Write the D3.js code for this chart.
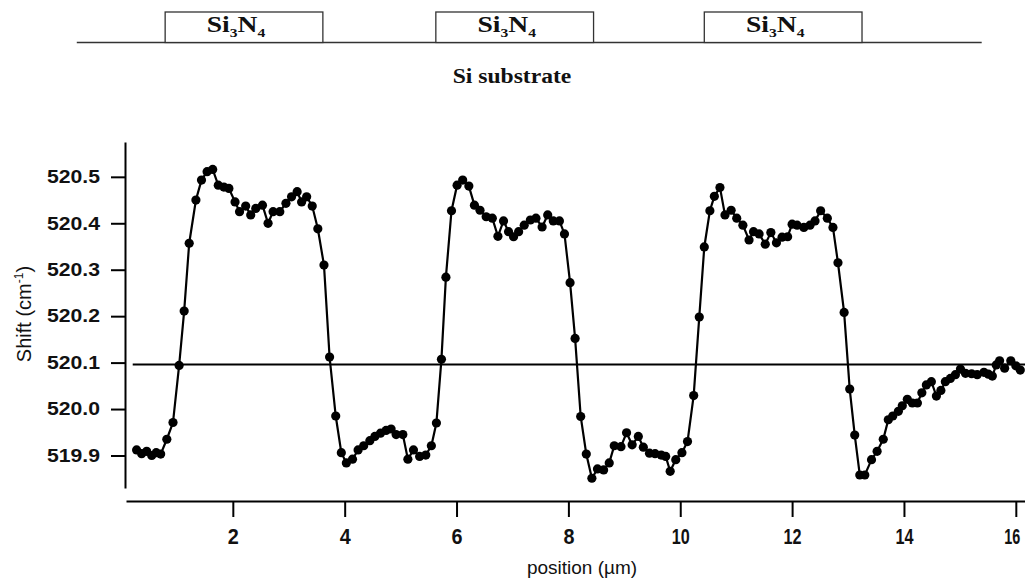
<!DOCTYPE html>
<html>
<head>
<meta charset="utf-8">
<script src="https://cdn.jsdelivr.net/npm/d3@7"></script>
<style>
body { margin: 0; background: #fff; }
svg { display: block; background: #fff; }
.axis path, .axis line { stroke: #000; stroke-width: 2px; }
.axis text { font-family: "Liberation Sans", Arial, sans-serif; font-weight: bold; fill: #111; }
.title { font-family: "Liberation Sans", Arial, sans-serif; fill: #111; }
.serif { font-family: "Liberation Serif", "Times New Roman", serif; font-weight: bold; fill: #111; }
</style>
</head>
<body>
<div id="chart"></div>
<script>
// Raman shift along the scan line
var positions = [
    0.28, 0.37, 0.46, 0.55, 0.63, 0.71, 0.82, 0.93, 1.04, 1.13,
    1.22, 1.34, 1.44, 1.54, 1.64, 1.74, 1.84, 1.93, 2.04, 2.12,
    2.23, 2.32, 2.41, 2.53, 2.63, 2.72, 2.84, 2.95, 3.05, 3.15,
    3.23, 3.32, 3.42, 3.52, 3.63, 3.73, 3.84, 3.94, 4.03, 4.14,
    4.24, 4.34, 4.45, 4.54, 4.64, 4.74, 4.83, 4.92, 5.04, 5.13,
    5.23, 5.34, 5.45, 5.55, 5.64, 5.73, 5.81, 5.91, 6.01, 6.11,
    6.22, 6.32, 6.42, 6.53, 6.64, 6.74, 6.84, 6.93, 7.02, 7.11,
    7.21, 7.32, 7.42, 7.53, 7.63, 7.73, 7.84, 7.93, 8.03, 8.12,
    8.22, 8.32, 8.42, 8.52, 8.63, 8.73, 8.82, 8.94, 9.04, 9.14,
    9.25, 9.34, 9.45, 9.55, 9.66, 9.74, 9.82, 9.92, 10.03, 10.13,
    10.24, 10.34, 10.43, 10.53, 10.61, 10.71, 10.80, 10.91, 11.01, 11.12,
    11.23, 11.31, 11.41, 11.52, 11.62, 11.72, 11.82, 11.92, 12.00, 12.09,
    12.21, 12.32, 12.41, 12.51, 12.63, 12.73, 12.82, 12.93, 13.03, 13.12,
    13.21, 13.30, 13.42, 13.52, 13.63, 13.72, 13.80, 13.90, 13.97, 14.06,
    14.15, 14.24, 14.32, 14.40, 14.49, 14.58, 14.66, 14.74, 14.83, 14.92,
    15.01, 15.10, 15.21, 15.31, 15.43, 15.51, 15.58, 15.65, 15.71, 15.80,
    15.91, 16.00, 16.08
];
var shifts = [
    519.912, 519.904, 519.909, 519.900, 519.906, 519.903, 519.935, 519.971, 520.094, 520.211,
    520.357, 520.450, 520.493, 520.511, 520.516, 520.482, 520.478, 520.475, 520.446, 520.425,
    520.437, 520.418, 520.432, 520.439, 520.400, 520.425, 520.425, 520.443, 520.457, 520.468,
    520.446, 520.457, 520.437, 520.388, 520.310, 520.112, 519.985, 519.906, 519.884, 519.892,
    519.912, 519.921, 519.932, 519.941, 519.948, 519.954, 519.957, 519.945, 519.945, 519.892,
    519.912, 519.898, 519.901, 519.921, 519.970, 520.107, 520.284, 520.427, 520.482, 520.493,
    520.480, 520.439, 520.428, 520.414, 520.411, 520.372, 520.405, 520.382, 520.371, 520.382,
    520.396, 520.407, 520.411, 520.392, 520.418, 520.405, 520.405, 520.377, 520.272, 520.152,
    519.984, 519.903, 519.851, 519.871, 519.869, 519.884, 519.921, 519.919, 519.949, 519.923,
    519.941, 519.918, 519.905, 519.904, 519.901, 519.898, 519.866, 519.891, 519.906, 519.930,
    520.029, 520.198, 520.349, 520.427, 520.458, 520.477, 520.418, 520.428, 520.411, 520.396,
    520.364, 520.382, 520.377, 520.355, 520.380, 520.358, 520.370, 520.371, 520.398, 520.396,
    520.391, 520.396, 520.405, 520.427, 520.411, 520.391, 520.315, 520.208, 520.043, 519.944,
    519.858, 519.858, 519.891, 519.909, 519.935, 519.977, 519.985, 519.995, 520.007, 520.021,
    520.013, 520.013, 520.035, 520.052, 520.059, 520.028, 520.040, 520.059, 520.066, 520.074,
    520.086, 520.077, 520.076, 520.074, 520.079, 520.075, 520.071, 520.095, 520.104, 520.088,
    520.104, 520.093, 520.084
];

var shiftTicks = [519.9, 520.0, 520.1, 520.2, 520.3, 520.4, 520.5];
var positionTicks = [2, 4, 6, 8, 10, 12, 14, 16];

// unstrained reference level
var referenceShift = 520.096;
var referenceRange = [0.21, 16.3];

// sketch of the sample above the plot (µm)
var surfaceRange = [-0.79, 15.39];
var nitrideStarts = [0.79, 5.63, 10.43];
var nitrideEnds = [3.61, 8.45, 13.25];

var data = positions.map(function(p, i) { return {position: p, shift: shifts[i]}; });

var svg = d3.select("#chart").append("svg")
    .attr("width", 1025)
    .attr("height", 585);

var x = d3.scaleLinear()
    .domain([0.09, 16.2])
    .range([126, 1027]);

var y = d3.scaleLinear()
    .domain([519.83, 520.575])
    .range([488, 142]);

// sample sketch
var surfaceY = 42.5, boxTop = 12;

svg.append("line")
    .attr("x1", x(surfaceRange[0]))
    .attr("x2", x(surfaceRange[1]))
    .attr("y1", surfaceY)
    .attr("y2", surfaceY)
    .attr("stroke", "#333")
    .attr("stroke-width", 1.6);

var boxes = svg.selectAll(".nitride")
    .data(nitrideStarts)
    .enter().append("g")
    .attr("class", "nitride");

boxes.append("rect")
    .attr("x", function(d) { return x(d); })
    .attr("y", boxTop)
    .attr("width", function(d, i) { return x(nitrideEnds[i]) - x(d); })
    .attr("height", surfaceY - boxTop)
    .attr("fill", "#fff")
    .attr("stroke", "#333")
    .attr("stroke-width", 1.3);

var boxLabel = boxes.append("text")
    .attr("class", "serif")
    .attr("text-anchor", "middle")
    .style("font-size", "23px")
    .attr("transform", function(d, i) {
        var cx = (x(d) + x(nitrideEnds[i])) / 2 - 8;
        return "translate(" + cx + ",32) scale(1.2,1)";
    });
boxLabel.append("tspan").text("Si");
boxLabel.append("tspan").attr("dy", 5).style("font-size", "13px").text("3");
boxLabel.append("tspan").attr("dy", -5).text("N");
boxLabel.append("tspan").attr("dy", 5).style("font-size", "13px").text("4");

svg.append("text")
    .attr("class", "serif")
    .attr("text-anchor", "middle")
    .style("font-size", "20px")
    .attr("transform", "translate(512,83) scale(1.18,1)")
    .text("Si substrate");

// axes
svg.append("g")
    .attr("class", "axis y-axis")
    .attr("transform", "translate(125,0)")
    .call(d3.axisLeft(y)
        .tickValues(shiftTicks)
        .tickFormat(d3.format(".1f"))
        .tickSize(14)
        .tickSizeOuter(0)
        .tickPadding(11))
    .selectAll("text")
    .style("font-size", "18px")
    .attr("textLength", 53)
    .attr("lengthAdjust", "spacingAndGlyphs");

svg.append("g")
    .attr("class", "axis x-axis")
    .attr("transform", "translate(0,501)")
    .call(d3.axisBottom(x)
        .tickValues(positionTicks)
        .tickFormat(d3.format("d"))
        .tickSize(16)
        .tickSizeOuter(0)
        .tickPadding(11))
    .selectAll("text")
    .style("font-size", "22px")
    .attr("dx", function(d) { return d == 16 ? -4 : 0; })
    .attr("textLength", function(d) { return String(d).length == 1 ? 11 : (d == 16 ? 16 : 18); })
    .attr("lengthAdjust", "spacingAndGlyphs");

var yTitle = svg.append("text")
    .attr("class", "title")
    .attr("text-anchor", "middle")
    .style("font-size", "20px")
    .attr("transform", "translate(31,314) rotate(-90)");
yTitle.append("tspan").text("Shift (cm");
yTitle.append("tspan").attr("dy", -8).style("font-size", "12px").text("-1");
yTitle.append("tspan").attr("dy", 8).text(")");

svg.append("text")
    .attr("class", "title")
    .attr("text-anchor", "middle")
    .style("font-size", "19px")
    .attr("x", 582)
    .attr("y", 574)
    .text("position (µm)");

// reference line
svg.append("line")
    .attr("x1", x(referenceRange[0]))
    .attr("x2", x(referenceRange[1]))
    .attr("y1", y(referenceShift))
    .attr("y2", y(referenceShift))
    .attr("stroke", "#000")
    .attr("stroke-width", 2);

// data
var line = d3.line()
    .x(function(d) { return x(d.position); })
    .y(function(d) { return y(d.shift); });

svg.append("path")
    .datum(data)
    .attr("d", line)
    .attr("fill", "none")
    .attr("stroke", "#000")
    .attr("stroke-width", 2.2);

svg.selectAll(".dot")
    .data(data)
    .enter().append("circle")
    .attr("class", "dot")
    .attr("cx", function(d) { return x(d.position); })
    .attr("cy", function(d) { return y(d.shift); })
    .attr("r", 4.6)
    .attr("fill", "#000");
</script>
</body>
</html>
